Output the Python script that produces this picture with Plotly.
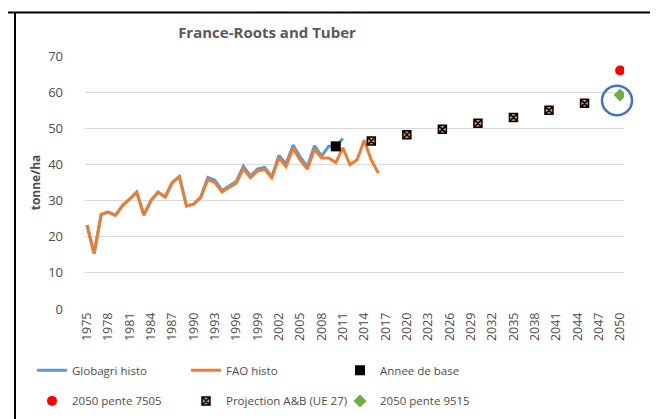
import plotly.graph_objects as go

# ---- data ----
fao_years = list(range(1975, 2017))
fao_values = [23.2, 15.3, 26.2, 26.8, 25.9, 28.6, 30.4, 32.3, 26.0, 30.0,
              32.3, 31.0, 35.0, 36.6, 28.5, 29.0, 30.9, 35.8, 35.0, 32.4,
              33.6, 34.8, 38.8, 36.3, 38.2, 38.6, 36.3, 41.8, 39.4, 44.5,
              41.2, 38.7, 44.2, 41.8, 41.8, 40.5, 44.6, 39.9, 41.3, 46.7,
              41.2, 37.6]
globagri_years = list(range(1975, 2012))
globagri_values = [23.2, 15.3, 26.2, 26.8, 25.9, 28.6, 30.4, 32.3, 26.0, 30.0,
                   32.3, 31.0, 35.0, 36.6, 28.5, 29.0, 30.9, 36.4, 35.6, 32.8,
                   34.0, 35.3, 39.5, 36.8, 38.8, 39.2, 36.6, 42.5, 40.2, 45.4,
                   42.0, 39.4, 45.2, 42.3, 45.0, 45.0, 47.2]
base_year = [2010]
base_value = [45.0]
proj_years = [2015, 2020, 2025, 2030, 2035, 2040, 2045]
proj_values = [46.5, 48.2, 49.7, 51.4, 53.0, 55.0, 56.9]
pente7505_year = [2050]
pente7505_value = [66.0]
pente9515_year = [2050]
pente9515_value = [59.2]
tick_years = list(range(1975, 2051, 3))

FONT = "Open Sans"
GRAY = "#595959"
DARK = "#4D4D4D"

fig = go.Figure()
fig.add_trace(go.Scatter(x=globagri_years, y=globagri_values, mode="lines",
                         name="Globagri histo", line=dict(color="#5B9BD5", width=3),
                         legend="legend"))
fig.add_trace(go.Scatter(x=fao_years, y=fao_values, mode="lines",
                         name="FAO histo", line=dict(color="#ED7D31", width=3),
                         legend="legend"))
fig.add_trace(go.Scatter(x=base_year, y=base_value, mode="markers",
                         name="Annee de base",
                         marker=dict(symbol="square", color="black", size=10),
                         legend="legend"))
fig.add_trace(go.Scatter(x=pente7505_year, y=pente7505_value, mode="markers",
                         name="2050 pente 7505",
                         marker=dict(symbol="circle", color="#FF0000", size=10),
                         legend="legend2"))
fig.add_trace(go.Scatter(x=proj_years, y=proj_values, mode="markers",
                         name="Projection A&B (UE 27)",
                         marker=dict(symbol="square-x", color="#E0914E", size=8,
                                     line=dict(color="black", width=1.5)),
                         legend="legend2"))
fig.add_trace(go.Scatter(x=pente9515_year, y=pente9515_value, mode="markers",
                         name="2050 pente 9515",
                         marker=dict(symbol="diamond", color="#70AD47", size=10),
                         legend="legend2"))

# plot area: x 77..616 px, y 48..304 px
L, R, T, B = 77, 42, 48, 115
W, H = 658, 419
pw, ph = W - L - R, H - T - B

def px(x):
    return (x - L) / pw

def py(y):
    return (H - B - y) / ph

shapes = [
    # highlight circle around 2050 pente 9515
    dict(type="circle", xref="paper", yref="paper", x0=px(594), x1=px(624),
         y0=py(108), y1=py(78), line=dict(color="#4472C4", width=2.5)),
    # frame
    dict(type="line", xref="paper", yref="paper", x0=px(0), x1=px(658), y0=py(4), y1=py(4),
         line=dict(color="black", width=2)),
    dict(type="line", xref="paper", yref="paper", x0=px(7), x1=px(7), y0=py(4), y1=py(419),
         line=dict(color="black", width=2)),
    dict(type="line", xref="paper", yref="paper", x0=px(652), x1=px(652), y0=py(4), y1=py(418),
         line=dict(color="#D9D9D9", width=1)),
    dict(type="line", xref="paper", yref="paper", x0=px(7), x1=px(652), y0=py(418), y1=py(418),
         line=dict(color="#D9D9D9", width=1)),
]

legend_common = dict(orientation="h", xanchor="left", yanchor="middle",
                     entrywidth=109, entrywidthmode="pixels", bgcolor="rgba(0,0,0,0)",
                     font=dict(size=11.5, color=DARK, family=FONT), tracegroupgap=0)

fig.update_layout(
    width=W, height=H,
    margin=dict(l=L, r=R, t=T, b=B),
    paper_bgcolor="white", plot_bgcolor="white",
    font=dict(family=FONT, color=GRAY, size=12),
    title=dict(text="<b>France-Roots and Tuber</b>", x=259 / W, xanchor="center",
               y=1 - 25 / H, yanchor="middle",
               font=dict(family=FONT, size=15, color=GRAY)),
    xaxis=dict(range=[1974.72, 2050.55], tickmode="array", tickvals=tick_years,
               ticktext=[str(t) for t in tick_years], tickangle=-90,
               showgrid=False, zeroline=False, showline=False, ticks="",
               tickfont=dict(size=12.5, color=DARK, family=FONT)),
    yaxis=dict(range=[0, 70], tickvals=[0, 10, 20, 30, 40, 50, 60, 70],
               showgrid=True, gridcolor="#D9D9D9", gridwidth=1, zeroline=False,
               showline=False, ticks="", ticklabelstandoff=21,
               tickfont=dict(size=13, color=DARK, family=FONT),
               title=dict(text="<b>tonne/ha</b>", standoff=4,
                          font=dict(size=12, color=DARK, family=FONT))),
    legend=dict(x=px(24), y=py(366), **legend_common),
    legend2=dict(x=px(24), y=py(397), **legend_common),
    shapes=shapes,
    showlegend=True,
)

fig.write_html("out.html")
